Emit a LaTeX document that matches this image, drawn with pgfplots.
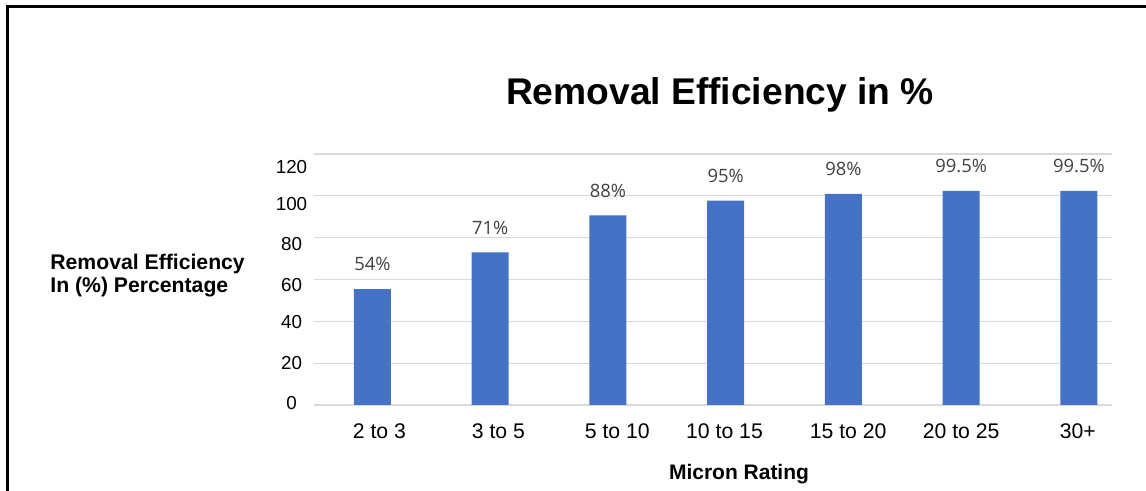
\documentclass[border=0pt]{standalone}
\usepackage{fontspec}
\setmainfont{Liberation Sans}
\newfontfamily\osans{Open Sans}
\usepackage{pgfplots}
\pgfplotsset{compat=1.18}
\definecolor{barblue}{HTML}{4472C4}
\definecolor{gridgray}{HTML}{D9D9D9}
\definecolor{lblgray}{HTML}{404040}
\begin{document}
\begin{tikzpicture}
\path[use as bounding box] (0,0) rectangle (573pt,245.5pt);
\draw[line width=1.5pt] (3.75pt,-2pt) -- (3.75pt,242.25pt) -- (576pt,242.25pt);
\begin{axis}[
  at={(156.75pt,43pt)}, anchor=south west,
  scale only axis, width=399.4pt, height=125.5pt,
  xmin=-0.5, xmax=6.283, ymin=0, ymax=120,
  axis line style={draw=none},
  major tick length=0pt,
  xtick={0.06,1.07,2.08,2.99,4.04,5,5.99},
  xticklabels={2 to 3,3 to 5,5 to 10,10 to 15,15 to 20,20 to 25,30+},
  xticklabel style={font=\fontsize{10.6}{12}\selectfont, anchor=base, yshift=-16.75pt},
  ytick={0.96,20.1,39.9,57.4,77.0,96.1,113.9},
  yticklabels={0,20,40,60,80,100,120},
  yticklabel style={font=\fontsize{9.4}{11}\selectfont, anchor=center, inner sep=0pt, xshift=-11pt},
  extra y ticks={0,20,40,60,80,100,120},
  extra y tick labels={},
  extra y tick style={grid=major, major tick length=0pt},
  grid style={gridgray, line width=0.65pt},
  /pgf/number format/assume math mode=true,
  clip=false,
]
\addplot[ybar, bar width=0.314, fill=barblue, draw=none,
  point meta=explicit symbolic,
  nodes near coords={\pgfplotspointmeta},
  every node near coord/.append style={font=\osans\fontsize{9.2}{11}\selectfont, text=lblgray, yshift=5.5pt}]
  table[meta=label] {
x y label
0 55.4 54\%
1 73.0 71\%
2 90.7 88\%
3 97.7 95\%
4 100.9 98\%
5 102.4 99.5\%
6 102.4 99.5\%
};
\end{axis}
\node[anchor=base, font=\bfseries\fontsize{18.6}{22}\selectfont] at (360pt,193pt) {Removal Efficiency in \%};
\node[anchor=base west, inner sep=0pt, font=\bfseries\fontsize{10.6}{12}\selectfont] at (25pt,110.75pt) {Removal Efficiency};
\node[anchor=base west, inner sep=0pt, font=\bfseries\fontsize{10.6}{12}\selectfont] at (25pt,99pt) {In (\%) Percentage};
\node[anchor=base, font=\bfseries\fontsize{10.5}{12}\selectfont] at (369.5pt,5.5pt) {Micron Rating};
\end{tikzpicture}
\end{document}
